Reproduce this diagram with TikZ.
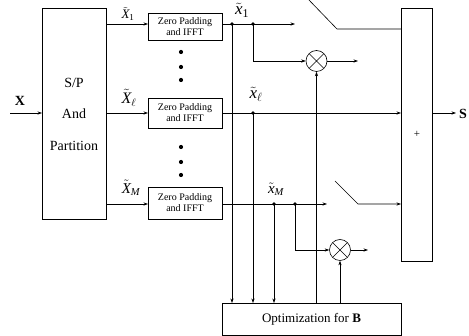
\documentclass[tikz,border=0pt]{standalone}
\usepackage{fontspec}
\setmainfont{Liberation Serif}
\usetikzlibrary{arrows.meta,calc}
\begin{document}
\begin{tikzpicture}[x=1pt,y=-1pt,
  line width=0.6pt,
  blk/.style={draw,inner sep=0pt,outer sep=0pt,fill=white},
  arr/.style={-{Stealth[length=4.5pt,width=3.2pt]}},
  dotn/.style={circle,fill,inner sep=0pt,minimum size=3.8pt},
  ell/.style={circle,fill,inner sep=0pt,minimum size=4.2pt},
  mult/.style={circle,draw,inner sep=0pt,minimum size=21pt,
    path picture={\draw (path picture bounding box.south west)--(path picture bounding box.north east)
      (path picture bounding box.north west)--(path picture bounding box.south east);}},
  zp/.style={blk,minimum width=74pt,align=center,font=\fontsize{10}{11}\selectfont},
  lbl/.style={inner sep=0pt}
]
\useasboundingbox (0,0) rectangle (469,336);

% main blocks
\node[blk,minimum width=64pt,minimum height=211pt] (sp) at (74,113.5) {};
\node[lbl,font=\fontsize{14}{16}\selectfont] (spt1) at (74,83) {S/P};
\node[lbl,font=\fontsize{14}{16}\selectfont] (spt2) at (74,114) {And};
\node[lbl,font=\fontsize{14}{16}\selectfont] (spt3) at (74,146) {Partition};

\node[zp,minimum height=27pt] (zp1) at (185,26.5) {Zero Padding\\and IFFT};
\node[zp,minimum height=30pt] (zp2) at (185,113) {Zero Padding\\and IFFT};
\node[zp,minimum height=32pt] (zp3) at (185,203) {Zero Padding\\and IFFT};

\node[blk,minimum width=31pt,minimum height=253pt] (sum) at (416.5,134.5) {};
\node[lbl,font=\fontsize{11}{12}\selectfont] (plus) at (417,134) {+};

\node[blk,minimum width=179pt,minimum height=32pt,font=\fontsize{13}{14}\selectfont] (opt) at (311.5,319) {Optimization for \textbf{B}};

\node[mult] (m1) at (316.5,61) {};
\node[mult] (m2) at (340,250) {};

% ellipsis dots
\node[ell] (e1) at (181,52) {};
\node[ell] (e2) at (181,67) {};
\node[ell] (e3) at (181,80) {};
\node[ell] (e4) at (181,147) {};
\node[ell] (e5) at (181,162) {};
\node[ell] (e6) at (181,175) {};

% junction dots
\node[dotn] (d1a) at (232,24) {};
\node[dotn] (d1b) at (253,24) {};
\node[dotn] (d2) at (253,113) {};
\node[dotn] (d3a) at (274,204) {};
\node[dotn] (d3b) at (295,204) {};

% free ends
\coordinate (xin) at (10,113);
\coordinate (o1) at (295,24);
\coordinate (o3) at (327,204);
\coordinate (m1o) at (358,61);
\coordinate (m2o) at (368,250);
\coordinate (sout) at (456,113);
\coordinate (sw1a) at (308,-1);
\coordinate (sw1b) at (337,29);
\coordinate (sw2a) at (335,181);
\coordinate (sw2b) at (358,204);

% input
\draw[arr] (xin) -- (sp.west |- xin);
\node[lbl,font=\fontsize{14}{16}\selectfont\bfseries] (xl) at (20,101) {X};

% S/P to zero padding
\draw[arr] (sp.east |- d1a) -- (zp1.west |- d1a);
\draw[arr] (sp.east |- d2) -- (zp2.west |- d2);
\draw[arr] (sp.east |- d3a) -- (zp3.west |- d3a);
\node[lbl,font=\fontsize{13}{14}\selectfont] (lx1) at (128,14) {$\tilde{\mathit{X}}_{\mathrm{1}}$};
\node[lbl,font=\fontsize{16}{17}\selectfont] (lxl) at (129,98) {$\tilde{\mathit{X}}_{\ell}$};
\node[lbl,font=\fontsize{15}{16}\selectfont] (lxm) at (131,188) {$\tilde{\mathit{X}}_{\mathit{M}}$};

% outputs of zero padding
\draw[arr] (zp1.east |- d1a) -- (o1);
\draw[arr] (zp2.east |- d2) -- (sum.west |- d2);
\draw[arr] (zp3.east |- d3a) -- (o3);
\node[lbl,font=\fontsize{17}{18}\selectfont] (lx1b) at (242,10) {$\tilde{\mathit{x}}_{\mathrm{1}}$};
\node[lbl,font=\fontsize{17}{18}\selectfont] (lxlb) at (256,94) {$\tilde{\mathit{x}}_{\ell}$};
\node[lbl,font=\fontsize{15}{16}\selectfont] (lxmb) at (276,189) {$\tilde{\mathit{x}}_{\mathit{M}}$};

% to optimization
\draw[arr] (d1a.center) -- (d1a |- opt.north);
\draw[arr] (d2.center) -- (d2 |- opt.north);
\draw[arr] (d3a.center) -- (d3a |- opt.north);

% to multipliers
\draw[arr] (d1b.center) |- (m1.west);
\draw[arr] (d3b.center) |- (m2.west);
\draw[arr] (opt.north -| m1) -- (m1.south);
\draw[arr] (opt.north -| m2) -- (m2.south);
\draw[arr] (m1.east) -- (m1o);
\draw[arr] (m2.east) -- (m2o);

% switches
\draw (sw1a) -- (sw1b) -- (sum.west |- sw1b);
\draw[arr] (sw2a) -- (sw2b) -- (sum.west |- sw2b);

% output
\draw[arr] (sum.east |- sout) -- (sout);
\node[lbl,font=\fontsize{14}{16}\selectfont\bfseries] (sl) at (463,114) {S};
\end{tikzpicture}
\end{document}
